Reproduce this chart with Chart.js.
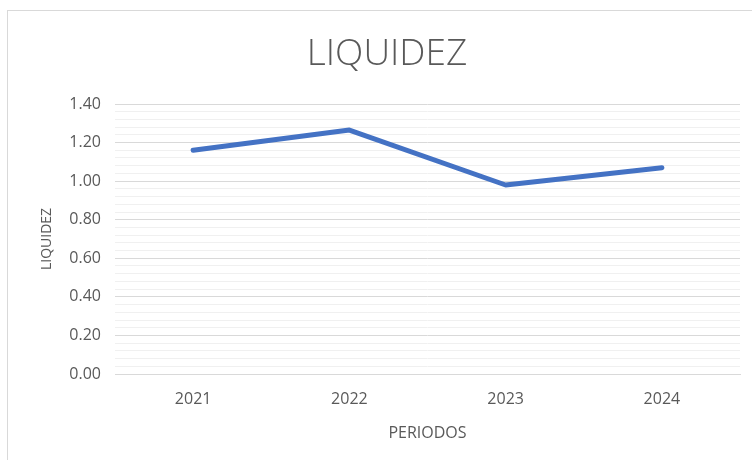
<!DOCTYPE html>
<html>
<head>
<meta charset="utf-8">
<script src="https://cdn.jsdelivr.net/npm/chart.js@4"></script>
<style>
  html, body { margin: 0; padding: 0; background: #fff; overflow: hidden; }
  #frame {
    position: absolute; left: 7px; top: 10px;
    width: 770px; height: 470px;
    border: 1px solid #d9d9d9; box-sizing: border-box;
  }
  #wrap { position: absolute; left: 10px; top: 10px; width: 756px; height: 460px; }
</style>
</head>
<body>
<div id="frame"></div>
<div id="wrap"><canvas id="liqChart"></canvas></div>
<script>
// datos del grafico
const periodos = ['2021', '2022', '2023', '2024'];
const liquidez = [1.16, 1.265, 0.98, 1.07];
const yTicks = [0, 0.2, 0.4, 0.6, 0.8, 1.0, 1.2, 1.4];

const FONT = "'Open Sans', 'Liberation Sans', sans-serif";

function isMajor(v) {
  return yTicks.some(t => Math.abs(t - v) < 1e-6);
}

const ctx = document.getElementById('liqChart').getContext('2d');
new Chart(ctx, {
  type: 'line',
  data: {
    labels: periodos,
    datasets: [{
      label: 'LIQUIDEZ',
      data: liquidez,
      borderColor: '#4472c4',
      borderWidth: 5,
      pointRadius: 0,
      borderCapStyle: 'round',
      borderJoinStyle: 'round',
      tension: 0,
      fill: false
    }]
  },
  options: {
    responsive: true,
    maintainAspectRatio: false,
    animation: false,
    layout: { padding: { top: 0, right: 26, bottom: 20, left: 24 } },
    plugins: {
      legend: { display: false },
      tooltip: { enabled: false },
      title: {
        display: true,
        text: 'LIQUIDEZ',
        color: '#595959',
        font: { family: FONT, size: 37, weight: '300' },
        padding: { top: 22, bottom: 27.6 }
      }
    },
    scales: {
      x: {
        offset: true,
        grid: { display: false, drawTicks: false },
        border: { display: true, color: '#d9d9d9' },
        ticks: { color: '#595959', font: { family: FONT, size: 16 }, padding: 16 },
        title: {
          display: true, text: 'PERIODOS', color: '#595959',
          font: { family: FONT, size: 16 }, padding: { top: 0, bottom: 7 }
        },
        afterFit: (s) => { s.height = 76; }
      },
      y: {
        min: 0,
        max: 1.4,
        border: { display: false },
        grid: {
          drawTicks: false,
          color: (c) => isMajor(c.tick.value) ? '#d9d9d9' : '#f0f0f0',
          lineWidth: 1
        },
        ticks: {
          stepSize: 0.04,
          autoSkip: false,
          color: '#595959',
          font: { family: FONT, size: 16 },
          padding: 14,
          callback: (v) => isMajor(v) ? Number(v).toFixed(2) : ''
        },
        title: {
          display: true, text: 'LIQUIDEZ', color: '#595959',
          font: { family: FONT, size: 14 }, padding: { top: 4.6, bottom: 0 }
        },
        afterFit: (s) => { s.width = 81; }
      }
    }
  }
});
</script>
</body>
</html>
